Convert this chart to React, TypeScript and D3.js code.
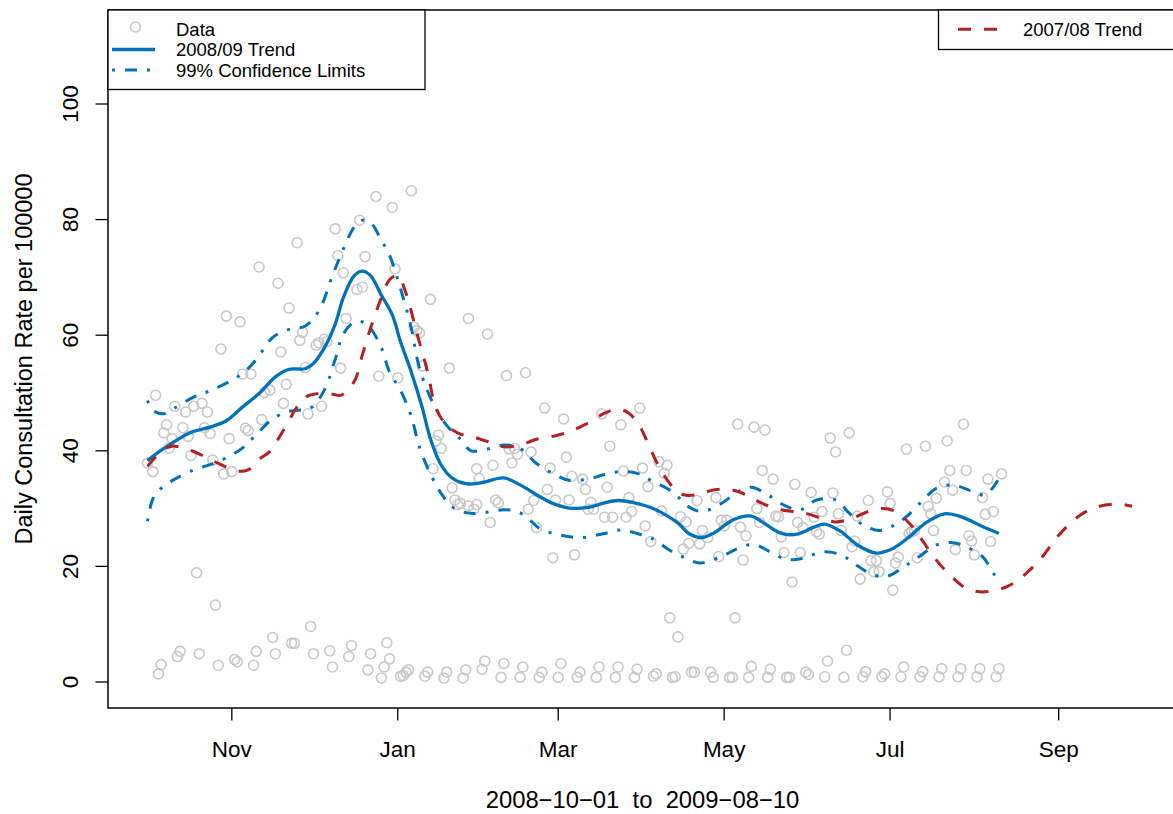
import React, { useEffect, useRef } from 'react';
import * as d3 from 'd3';

// days are counted from 2008-10-01
const obsDay = [
    0, 2, 3, 4, 5, 6, 7, 8, 9, 10, 11, 12, 13, 14, 15, 16, 17, 18, 19, 20,
    21, 22, 23, 24, 25, 26, 27, 28, 29, 30, 31, 32, 33, 34, 35, 36, 37, 38, 39, 40,
    41, 42, 43, 45, 46, 47, 48, 49, 50, 51, 52, 53, 54, 55, 56, 57, 58, 59, 60, 61,
    62, 63, 64, 65, 66, 67, 68, 69, 70, 71, 72, 73, 74, 75, 76, 77, 78, 79, 80, 81,
    82, 83, 84, 85, 86, 87, 88, 89, 90, 91, 92, 93, 94, 95, 96, 97, 98, 99, 100, 101,
    102, 103, 104, 105, 106, 107, 108, 109, 110, 111, 112, 113, 114, 115, 116, 117, 118, 118, 120, 121,
    121, 122, 123, 124, 125, 126, 127, 128, 129, 130, 131, 132, 133, 134, 135, 136, 137, 138, 139, 140,
    141, 142, 143, 144, 145, 146, 147, 148, 149, 150, 151, 152, 153, 154, 155, 156, 157, 158, 159, 160,
    161, 162, 163, 164, 165, 166, 167, 168, 169, 170, 171, 172, 173, 174, 175, 176, 177, 178, 179, 180,
    181, 182, 183, 184, 185, 186, 187, 188, 189, 190, 191, 192, 193, 194, 195, 196, 197, 198, 199, 200,
    201, 202, 203, 204, 206, 207, 208, 209, 210, 211, 212, 213, 214, 215, 216, 217, 218, 219, 220, 221,
    222, 223, 224, 225, 226, 227, 228, 229, 230, 231, 232, 233, 234, 235, 236, 237, 238, 239, 240, 241,
    242, 243, 244, 245, 246, 247, 248, 249, 250, 251, 252, 253, 254, 255, 256, 257, 258, 259, 260, 261,
    262, 263, 264, 265, 266, 267, 268, 269, 270, 271, 272, 273, 274, 275, 276, 277, 278, 279, 280, 281,
    282, 283, 284, 285, 286, 287, 288, 289, 290, 291, 292, 293, 294, 295, 296, 297, 298, 299, 300, 301,
    302, 303, 304, 305, 306, 307, 308, 309, 310, 311, 312, 313, 314,
];
const obsRate = [
    37.9, 36.4, 49.6, 1.4, 3.0, 43.1, 44.5, 40.5, 42.1, 47.7, 4.4, 5.3, 44.0, 46.7, 42.5, 39.2, 47.7, 18.9, 4.9, 48.2,
    44.0, 46.7, 43.0, 38.4, 13.3, 2.9, 57.6, 36.0, 63.3, 42.1, 36.4, 3.9, 3.5, 62.3, 53.3, 43.9, 43.5, 53.3, 2.9, 5.3,
    71.8, 45.4, 50.1, 50.5, 7.7, 4.9, 69.0, 57.1, 48.2, 51.5, 64.7, 6.7, 6.7, 76.0, 59.1, 60.5, 54.4, 46.4, 9.6, 4.9,
    58.3, 58.7, 47.7, 59.3, 58.9, 5.4, 2.6, 78.4, 73.8, 54.3, 70.8, 62.9, 4.4, 6.3, 107.5, 67.9, 79.9, 68.3, 73.6, 2.1,
    4.9, 112.9, 84.0, 52.9, 0.7, 2.6, 6.8, 4.0, 82.1, 71.5, 52.6, 1.0, 1.1, 1.7, 2.1, 85.0, 61.4, 60.8, 60.4, 54.7,
    1.0, 1.7, 66.2, 36.9, 41.7, 42.7, 40.4, 0.7, 1.7, 54.3, 33.6, 31.5, 30.7, 30.9, 0.7, 2.1, 62.9, 30.5, 29.9, 30.7,
    36.9, 35.2, 2.2, 3.6, 60.2, 27.6, 37.5, 31.5, 31.0, 0.8, 3.2, 53.0, 40.3, 37.9, 40.4, 39.4, 0.8, 2.6, 53.5, 29.9,
    39.8, 31.4, 26.7, 0.8, 1.7, 47.4, 33.3, 37.0, 21.5, 31.5, 0.8, 3.2, 45.5, 38.9, 31.5, 35.6, 22.0, 0.8, 1.7, 35.1,
    33.3, 29.9, 31.1, 29.9, 0.8, 2.6, 46.4, 28.5, 33.7, 40.8, 28.5, 0.8, 2.6, 44.5, 36.5, 28.5, 31.9, 29.5, 0.8, 2.2,
    47.4, 37.0, 27.0, 33.8, 24.3, 1.0, 1.4, 38.1, 29.6, 36.1, 37.5, 11.1, 0.8, 0.9, 7.8, 28.6, 23.0, 27.7, 24.0, 1.7,
    1.7, 31.4, 23.9, 26.2, 25.0, 1.7, 0.8, 31.9, 21.7, 28.0, 27.0, 28.0, 0.8, 0.8, 11.1, 44.6, 26.8, 21.1, 25.3, 0.8,
    2.7, 44.1, 30.0, 27.6, 36.6, 43.6, 0.8, 2.2, 35.1, 28.7, 28.6, 25.1, 22.4, 0.8, 0.8, 17.3, 34.2, 27.6, 22.4, 26.7,
    1.7, 1.3, 32.8, 28.5, 26.0, 25.6, 29.5, 0.9, 3.6, 42.2, 32.7, 39.8, 29.1, 26.2, 0.8, 5.5, 43.1, 23.4, 24.4, 28.7,
    17.8, 0.9, 1.8, 31.4, 21.0, 19.1, 21.0, 19.1, 0.9, 1.4, 32.9, 30.9, 15.9, 20.6, 21.6, 0.9, 2.6, 40.3, 25.7, 26.0,
    26.2, 21.5, 0.9, 1.8, 40.8, 30.4, 29.1, 26.2, 31.8, 0.9, 2.3, 34.6, 41.7, 36.6, 33.2, 22.9, 0.9, 2.3, 44.6, 36.6,
    25.3, 24.4, 22.0, 0.9, 2.3, 31.9, 29.0, 35.1, 24.3, 29.5, 0.9, 2.3, 36.0,
];

// 2008/09 smoothed trend
const trendDay = [0, 6, 16, 23, 29, 35, 41, 47, 52, 58, 61, 65, 69, 72, 76, 79, 82, 86, 90, 93, 97, 101, 104, 108, 112, 117, 123, 131, 137, 143, 149, 155, 162, 168, 173, 179, 185, 189, 195, 199, 204, 209, 215, 222, 226, 233, 239, 245, 249, 255, 261, 268, 274, 280, 286, 293, 299, 307, 313];
const trendRate = [38.3, 40.4, 43.2, 44.1, 45.2, 47.6, 49.9, 52.8, 54.1, 54.2, 55.1, 57.8, 61.9, 66.5, 70.3, 71.1, 70.3, 66.9, 63.5, 58.9, 53.6, 47.5, 42.1, 37.5, 35.3, 34.3, 34.5, 35.3, 34.1, 32.4, 30.9, 30.1, 30.2, 31.0, 31.4, 31.0, 30.2, 29.3, 27.5, 25.7, 25.0, 26.0, 28.0, 28.7, 27.7, 25.7, 25.6, 26.8, 27.3, 26.0, 23.7, 22.3, 23.1, 25.1, 27.5, 29.1, 28.6, 26.9, 25.7];

// 99% confidence limits
const upperDay = [0, 2, 6, 10, 17, 22, 29, 35, 40, 46, 52, 58, 63, 68, 72, 76, 79, 82, 86, 89, 93, 97, 100, 105, 110, 115, 119, 125, 131, 137, 143, 149, 155, 162, 168, 174, 180, 185, 193, 199, 204, 211, 217, 222, 228, 234, 240, 246, 253, 258, 263, 269, 274, 279, 285, 290, 296, 302, 308, 313];
const upperRate = [48.7, 47.0, 46.4, 47.4, 49.3, 50.2, 51.7, 53.4, 55.8, 59.6, 61.0, 61.6, 64.2, 70.3, 74.9, 78.7, 79.9, 79.5, 76.4, 73.8, 68.1, 61.2, 54.3, 48.2, 44.4, 42.0, 40.0, 40.3, 41.0, 40.4, 37.8, 36.1, 34.9, 35.1, 35.9, 36.4, 36.1, 34.9, 32.9, 30.3, 29.5, 30.9, 32.9, 33.7, 32.4, 30.6, 29.8, 31.5, 31.5, 29.2, 27.2, 26.2, 27.0, 28.6, 31.4, 33.5, 34.1, 33.2, 32.4, 35.2];
const lowerDay = [0, 2, 5, 10, 17, 23, 29, 35, 40, 46, 51, 55, 60, 65, 69, 72, 76, 79, 82, 86, 89, 93, 97, 100, 104, 108, 112, 117, 122, 131, 136, 140, 144, 152, 160, 168, 174, 180, 186, 192, 198, 203, 211, 217, 223, 229, 235, 241, 248, 255, 261, 267, 272, 278, 284, 290, 296, 301, 307, 311, 313];
const lowerRate = [27.8, 31.7, 33.5, 35.1, 36.7, 37.6, 38.8, 40.5, 42.8, 45.5, 46.7, 47.0, 47.4, 50.5, 55.8, 60.2, 62.3, 62.3, 61.2, 57.8, 53.6, 50.5, 45.9, 40.6, 36.0, 32.6, 30.3, 29.3, 29.2, 29.8, 29.5, 28.3, 26.6, 25.4, 25.0, 25.7, 26.3, 25.7, 24.7, 22.8, 21.4, 20.6, 21.7, 23.1, 23.8, 22.5, 21.2, 21.4, 22.5, 22.0, 20.1, 18.5, 18.3, 19.9, 21.8, 23.7, 24.1, 23.4, 21.7, 18.8, 17.6];

// 2007/08 trend for comparison
const prevDay = [0, 5, 9, 15, 21, 27, 33, 37, 41, 45, 48, 52, 55, 59, 63, 68, 71, 76, 79, 82, 86, 89, 92, 95, 99, 103, 106, 110, 115, 119, 125, 131, 137, 143, 150, 155, 162, 168, 173, 177, 181, 184, 188, 193, 197, 202, 208, 214, 220, 226, 233, 239, 242, 248, 253, 259, 265, 270, 275, 280, 284, 289, 295, 301, 306, 311, 316, 320, 328, 335, 343, 350, 357, 362];
const prevRate = [37.3, 39.9, 40.8, 40.2, 39.0, 37.6, 36.5, 36.7, 38.5, 39.9, 42.0, 45.2, 47.6, 49.5, 49.9, 49.8, 49.6, 52.0, 56.6, 61.2, 66.5, 69.6, 70.3, 67.3, 60.4, 53.6, 47.5, 44.4, 42.9, 42.5, 41.6, 40.7, 41.0, 42.0, 42.6, 43.3, 44.8, 46.5, 47.2, 46.5, 44.2, 41.3, 37.3, 33.8, 32.4, 32.4, 33.2, 33.3, 32.4, 30.9, 29.8, 29.4, 29.2, 28.3, 27.7, 28.3, 29.5, 30.0, 29.5, 27.5, 25.1, 21.7, 18.5, 16.2, 15.6, 15.8, 16.5, 17.6, 21.1, 25.4, 28.9, 30.4, 30.8, 30.4];

const yTicks = [0, 20, 40, 60, 80, 100];
const xTitle = '2008\u221210\u221201  to  2009\u221208\u221210';
const yTitle = 'Daily Consultation Rate per 100000';
const legendLeft = ['Data', '2008/09 Trend', '99% Confidence Limits'];
const legendRight = '2007/08 Trend';

const BLUE = '#0072BC';
const RED = '#B22222';
const GREY = '#C8C8C8';
const FONT = '"Liberation Sans", Arial, Helvetica, sans-serif';
const DOTDASH = '3,10,12,10';
const DASH = '13,13';

const App: React.FC = () => {
    const svgRef = useRef<SVGSVGElement>(null);

    useEffect(() => {
        const svg = d3.select(svgRef.current);
        svg.selectAll('*').remove();

        const start = Date.UTC(2008, 9, 1);
        const toDate = (d: number) => new Date(start + d * 864e5);

        // plot region
        const left = 108, right = 1177, top = 10, bottom = 708;

        const x = d3.scaleUtc()
            .domain([toDate(0), toDate(364)])
            .range([147.5, 147.5 + 364 * 2.72]);
        const y = d3.scaleLinear().domain([0, 100]).range([682, 104]);

        // observations
        svg.append('g')
            .selectAll('circle')
            .data(obsDay)
            .join('circle')
            .attr('cx', (d) => x(toDate(d)))
            .attr('cy', (d, i) => y(obsRate[i]))
            .attr('r', 5)
            .attr('fill', 'none')
            .attr('stroke', GREY)
            .attr('stroke-width', 1.6);

        const makeLine = (rates: number[]) =>
            d3.line<number>()
                .x((d) => x(toDate(d)))
                .y((d, i) => y(rates[i]))
                .curve(d3.curveCatmullRom.alpha(0.5));

        svg.append('path')
            .attr('d', makeLine(upperRate)(upperDay))
            .attr('fill', 'none').attr('stroke', BLUE).attr('stroke-width', 3)
            .attr('stroke-dasharray', DOTDASH);
        svg.append('path')
            .attr('d', makeLine(lowerRate)(lowerDay))
            .attr('fill', 'none').attr('stroke', BLUE).attr('stroke-width', 3)
            .attr('stroke-dasharray', DOTDASH);
        svg.append('path')
            .attr('d', makeLine(trendRate)(trendDay))
            .attr('fill', 'none').attr('stroke', BLUE).attr('stroke-width', 3.3);
        svg.append('path')
            .attr('d', makeLine(prevRate)(prevDay))
            .attr('fill', 'none').attr('stroke', RED).attr('stroke-width', 3)
            .attr('stroke-dasharray', DASH);

        // frame
        svg.append('rect')
            .attr('x', left).attr('y', top)
            .attr('width', right - left).attr('height', bottom - top)
            .attr('fill', 'none').attr('stroke', 'black').attr('stroke-width', 1.5);

        // x axis
        const xTicks = x.ticks(d3.utcMonth.every(2)!);
        const fmt = d3.utcFormat('%b');
        const xa = svg.append('g');
        xa.selectAll('line').data(xTicks).join('line')
            .attr('x1', (d) => x(d)).attr('x2', (d) => x(d))
            .attr('y1', bottom).attr('y2', bottom + 12.5)
            .attr('stroke', 'black').attr('stroke-width', 1.3);
        xa.selectAll('text').data(xTicks).join('text')
            .attr('x', (d) => x(d)).attr('y', 757)
            .attr('text-anchor', 'middle')
            .style('font-family', FONT).style('font-size', '22.5px')
            .text((d) => fmt(d));

        // y axis
        const ya = svg.append('g');
        ya.selectAll('line').data(yTicks).join('line')
            .attr('x1', left - 12.5).attr('x2', left)
            .attr('y1', (d) => y(d)).attr('y2', (d) => y(d))
            .attr('stroke', 'black').attr('stroke-width', 1.3);
        ya.selectAll('text').data(yTicks).join('text')
            .attr('transform', (d) => `translate(78,${y(d)}) rotate(-90)`)
            .attr('text-anchor', 'middle')
            .style('font-family', FONT).style('font-size', '22.5px')
            .text((d) => d);

        svg.append('text')
            .attr('x', (left + right) / 2).attr('y', 808)
            .attr('text-anchor', 'middle')
            .style('font-family', FONT).style('font-size', '23.8px')
            .style('white-space', 'pre')
            .text(xTitle);
        svg.append('text')
            .attr('transform', `translate(32,${(top + bottom) / 2}) rotate(-90)`)
            .attr('text-anchor', 'middle')
            .style('font-family', FONT).style('font-size', '23.5px')
            .text(yTitle);

        // legends
        const lg = svg.append('g').style('font-family', FONT).style('font-size', '18.5px');
        lg.append('rect')
            .attr('x', left).attr('y', top).attr('width', 425 - left).attr('height', 79.5)
            .attr('fill', 'white').attr('stroke', 'black').attr('stroke-width', 1.3);
        lg.append('circle')
            .attr('cx', 135.5).attr('cy', 27).attr('r', 5)
            .attr('fill', 'none').attr('stroke', GREY).attr('stroke-width', 1.6);
        lg.append('line')
            .attr('x1', 112).attr('x2', 155).attr('y1', 49.5).attr('y2', 49.5)
            .attr('stroke', BLUE).attr('stroke-width', 3.3);
        lg.append('line')
            .attr('x1', 112).attr('x2', 155).attr('y1', 70).attr('y2', 70)
            .attr('stroke', BLUE).attr('stroke-width', 3).attr('stroke-dasharray', DOTDASH);
        lg.selectAll('text.l').data(legendLeft).join('text')
            .attr('class', 'l')
            .attr('x', 176).attr('y', (d, i) => 35.7 + i * 20.5)
            .text((d) => d);

        lg.append('rect')
            .attr('x', 938.5).attr('y', top).attr('width', 250).attr('height', 39.5)
            .attr('fill', 'white').attr('stroke', 'black').attr('stroke-width', 1.3);
        lg.append('line')
            .attr('x1', 958).attr('x2', 998).attr('y1', 29.3).attr('y2', 29.3)
            .attr('stroke', RED).attr('stroke-width', 3).attr('stroke-dasharray', DASH);
        lg.append('text')
            .attr('x', 1023).attr('y', 36)
            .text(legendRight);
    }, []);

    return (
        <div style={{ position: 'absolute', left: 0, top: 0 }}>
            <svg ref={svgRef} width={1173} height={814} style={{ display: 'block', background: 'white' }} />
        </div>
    );
};

export default App;
